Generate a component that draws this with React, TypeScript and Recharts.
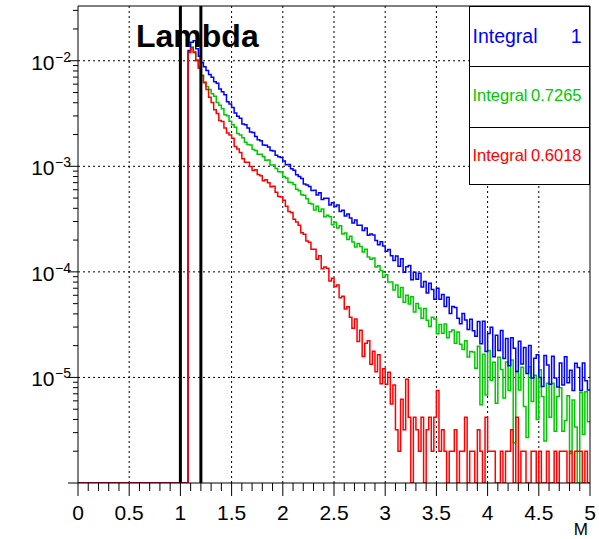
import React from "react";
import { LineChart, Line, XAxis, YAxis, ReferenceLine } from "recharts";

const FONT = "'Liberation Sans', Arial, Helvetica, sans-serif";

// histogram binning: 157 bins of 0.025 from 1.075 up to 5
const BIN_START = 1.075;
const BIN_WIDTH = 0.025;
const X_MAX = 5;
const Y_MIN = 1e-6;
const Y_MAX = 0.033;
const UNIT = 1e-6; // bin contents below are stored in units of 1e-6

const blueBins = [
  12500, 15000, 15500, 13000, 11000, 9600, 8750, 8100, 7400,
  6980, 6310, 6110, 5410, 5080, 4770, 4090, 3890, 3600, 3190, 2980, 2850,
  2510, 2480, 2310, 2110, 2090, 1920, 1780, 1750, 1590, 1580, 1520, 1410,
  1400, 1270, 1230, 1210, 1125, 1035, 1040, 950, 920, 830, 800, 767,
  680, 665, 643, 591, 593, 534, 562, 485, 497, 499, 431, 452,
  417, 430, 373, 383, 338, 354, 324, 290, 310, 276, 277, 247,
  260, 222, 228, 223, 198, 181, 193, 176, 157, 163, 142, 128,
  141, 113, 133, 99, 112, 115, 84, 99, 85, 97, 72, 81,
  63, 78, 68, 55, 70, 55, 61, 47, 57.5, 40.4, 47, 46,
  36.4, 32.3, 40.3, 35, 28.5, 35.5, 27.7, 24.5, 33.8, 20.9, 34, 17.6,
  26.1, 29.9, 15.7, 25.1, 18, 27.8, 15.1, 23.4, 12.9, 23.7, 18.9, 11.4,
  22, 13.4, 19.2, 10.9, 20.1, 9.9, 15.2, 16.4, 10, 8.2, 16.1, 13.1,
  8.6, 15.9, 9.9, 8.1, 13.7, 8.5, 15.7, 8.9, 11.7, 7.5, 13.6, 12.4,
  7.5, 13.7, 9.3, 7.6,
];

const greenBins = [
  12200, 13500, 12200, 10200, 8700, 7300, 6300, 5700, 5350,
  4860, 4620, 4020, 3790, 3510, 3080, 3010, 2670, 2480, 2340, 2050, 1980,
  1860, 1690, 1610, 1590, 1440, 1410, 1300, 1300, 1230, 1140, 1145, 1030,
  1028, 955, 886, 881, 801, 775, 706, 704, 673, 606, 586, 538,
  531, 493, 447, 440, 386, 418, 373, 395, 332, 344, 333, 279,
  295, 261, 273, 229, 233, 203, 217, 192, 172, 186, 174, 154,
  164, 138, 132, 135, 111, 114, 103, 89, 94, 80, 80, 67.5,
  75, 57.6, 71.3, 51.6, 59.9, 49.7, 58.1, 41.7, 50.1, 45.2, 36.3, 45,
  34.8, 30.3, 37.1, 35.8, 25.9, 31.7, 26.2, 32.1, 23.8, 27.1, 28.1, 21.1,
  27, 20.6, 18.4, 22.2, 15.6, 17.6, 17.4, 12.2, 19.7, 5.5, 16.6, 6.8,
  18, 9.4, 13.9, 5.7, 15.5, 11.9, 6.4, 14, 7.5, 14.6, 2.4, 11.4,
  7.6, 12.5, 5.3, 2.7, 12.6, 5.9, 10.5, 4, 11.8, 6.6, 2.5, 8.8,
  4.2, 8.8, 3.1, 6.6, 8, 3.1, 3.9, 6.7, 1.9, 6.1, 3.4, 0,
  7.2, 2.9, 7.3, 3.8,
];

const redBins = [
  12000, 13300, 12000, 10000, 8500, 7200, 6200, 5350, 4500,
  4020, 3430, 3170, 2710, 2650, 2310, 2070, 1980, 1840, 1540, 1460, 1350,
  1180, 1090, 1094, 998, 912, 926, 835, 814, 729, 746, 699, 641,
  647, 567, 518, 512, 476, 418, 374, 366, 315, 297, 277, 235,
  227, 196, 191, 164, 164, 132, 142, 107, 111, 108, 82, 87,
  72.5, 75, 56.8, 58.9, 44.4, 46.8, 37.2, 29.2, 35.8, 21.9, 28, 15.8,
  21.1, 22.3, 13.3, 17.7, 11.3, 16.4, 8.7, 12.1, 8.6, 11.2, 5.6, 8.5,
  3.2, 2, 6.2, 3.2, 9.6, 4.2, 0, 4.2, 3.2, 2, 4.2, 0,
  3.2, 4.2, 2, 4.2, 7.5, 2, 3.2, 2, 0, 2, 2, 3.2,
  0, 2, 2, 4.2, 0, 2, 2, 0, 3.2, 2, 0, 4.2,
  2, 2, 2, 0, 0, 2, 0, 2, 2, 3.2, 0, 4.2,
  0, 2, 2, 0, 0, 2, 2, 0, 2, 0, 0, 2,
  0, 0, 2, 0, 2, 2, 2, 0, 2, 0, 2, 2,
  2, 0, 2, 0,
];

const integrals = [
  { label: "Integral", value: "1", color: "#0000ff" },
  { label: "Integral", value: "0.7265", color: "#00c800" },
  { label: "Integral", value: "0.6018", color: "#ff0000" },
];

const cutLines = [1.0, 1.2];
const xGrid = [0.5, 1, 1.5, 2, 2.5, 3, 3.5, 4, 4.5];
const yGrid = [1e-5, 1e-4, 1e-3, 1e-2];
const xTicks = Array.from({ length: 51 }, (_, i) => i / 10);
const yTicks: number[] = [];
for (let e = -6; e <= -2; e++) {
  for (let m = 1; m <= 9; m++) {
    const v = Number((m * Math.pow(10, e)).toPrecision(3));
    if (v <= Y_MAX) yTicks.push(v);
  }
}

const floor = (v: number) => Math.max(v * UNIT, Y_MIN);

const rows = [{ x: 0, blue: Y_MIN, green: Y_MIN, red: Y_MIN }];
blueBins.forEach((_, i) => {
  rows.push({
    x: Number((BIN_START + i * BIN_WIDTH).toFixed(3)),
    blue: floor(blueBins[i]),
    green: floor(greenBins[i]),
    red: floor(redBins[i]),
  });
});
const last = rows[rows.length - 1];
rows.push({ ...last, x: X_MAX });

const XTick = (props: any) => {
  const { x, y, payload } = props;
  const v = payload.value;
  const major = Math.abs(v * 2 - Math.round(v * 2)) < 1e-6;
  return (
    <g>
      <line x1={x} x2={x} y1={y} y2={y + (major ? 13 : 8)} stroke="#000" strokeWidth={1} />
      {major && (
        <text x={x} y={y + 37} textAnchor="middle" fontSize={21} fontFamily={FONT} fill="#000">
          {String(Math.round(v * 10) / 10)}
        </text>
      )}
    </g>
  );
};

const YTick = (props: any) => {
  const { x, y, payload } = props;
  const v = payload.value;
  const e = Math.round(Math.log10(v));
  const major = Math.abs(v - Math.pow(10, e)) / v < 1e-6;
  return (
    <g>
      <line x1={x - (major ? 10 : 5)} x2={x} y1={y} y2={y} stroke="#000" strokeWidth={1} />
      {major && e > -6 && (
        <g fontFamily={FONT} fill="#000">
          <text x={54.5} y={y + 9} textAnchor="end" fontSize={21}>10</text>
          <text x={55} y={y + 1} fontSize={14}>{"\u2212" + -e}</text>
        </g>
      )}
    </g>
  );
};

export default function App() {
  return (
    <div style={{ position: "absolute", left: 0, top: 0, width: 599, height: 539, background: "#fff" }}>
      <LineChart width={599} height={539} data={rows} margin={{ top: 6, right: 9, bottom: 0, left: 0 }}>
        {xGrid.map((v) => (
          <ReferenceLine key={"gx" + v} x={v} stroke="#000" strokeWidth={1} strokeDasharray="2 3" />
        ))}
        {yGrid.map((v) => (
          <ReferenceLine key={"gy" + v} y={v} stroke="#000" strokeWidth={1} strokeDasharray="2 3" />
        ))}
        <XAxis
          dataKey="x"
          type="number"
          domain={[0, X_MAX]}
          ticks={xTicks}
          interval={0}
          tick={<XTick />}
          tickLine={false}
          tickSize={0}
          tickMargin={0}
          height={56}
          axisLine={{ stroke: "#000" }}
          allowDataOverflow
        />
        <YAxis
          type="number"
          scale="log"
          domain={[Y_MIN, Y_MAX]}
          ticks={yTicks}
          interval={0}
          tick={<YTick />}
          tickLine={false}
          tickSize={0}
          tickMargin={0}
          width={78}
          axisLine={{ stroke: "#000" }}
          allowDataOverflow
        />
        <Line dataKey="green" type="stepAfter" stroke="#00c800" strokeWidth={1.5} dot={false} isAnimationActive={false} />
        <Line dataKey="blue" type="stepAfter" stroke="#0000ff" strokeWidth={1.5} dot={false} isAnimationActive={false} />
        <Line dataKey="red" type="stepAfter" stroke="#ff0000" strokeWidth={1.5} dot={false} isAnimationActive={false} />
        {cutLines.map((v) => (
          <ReferenceLine key={"cut" + v} x={v} stroke="#000" strokeWidth={3} />
        ))}
        <ReferenceLine y={Y_MAX} stroke="#000" strokeWidth={1} />
        <ReferenceLine x={X_MAX} stroke="#000" strokeWidth={1} />
      </LineChart>
      <svg width={599} height={539} style={{ position: "absolute", left: 0, top: 0, pointerEvents: "none" }}>
        <text x={136} y={47} fontSize={32} fontWeight="bold" fontFamily={FONT} fill="#000">
          Lambda
        </text>
        <rect x={469.5} y={6.5} width={120} height={178} fill="#fff" stroke="#000" strokeWidth={1} />
        <line x1={469.5} x2={589.5} y1={66.5} y2={66.5} stroke="#000" />
        <line x1={469.5} x2={589.5} y1={127.5} y2={127.5} stroke="#000" />
        {integrals.map((it, i) => {
          const base = [43.3, 100.7, 160.7][i];
          const size = i === 0 ? 19.5 : 16.5;
          return (
            <g key={i} fontFamily={FONT} fill={it.color} fontSize={size}>
              <text x={472.5} y={base}>{it.label}</text>
              <text x={581.5} y={base} textAnchor="end">{it.value}</text>
            </g>
          );
        })}
        <text x={588} y={535} textAnchor="end" fontSize={17} fontFamily={FONT} fill="#000">
          M
        </text>
      </svg>
    </div>
  );
}
